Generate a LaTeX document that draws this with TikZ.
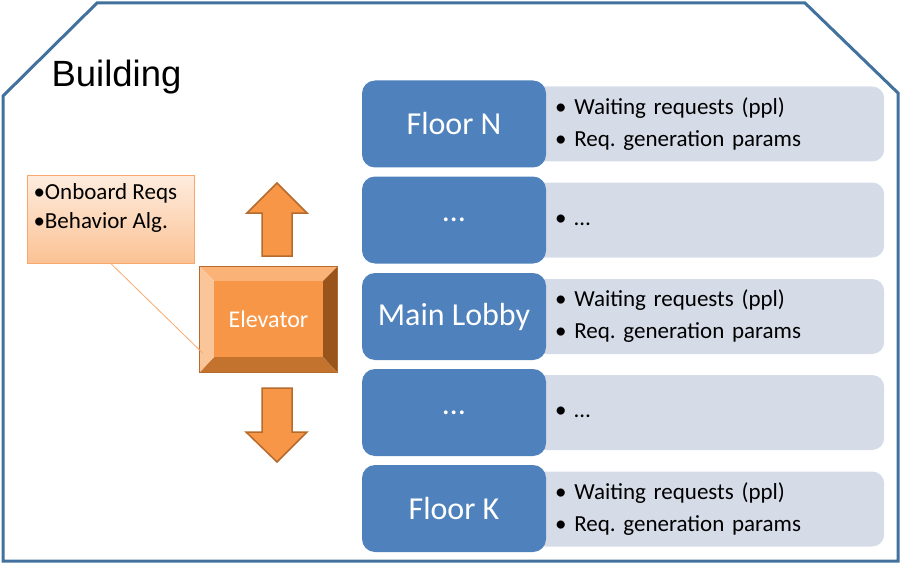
\documentclass[tikz,border=0pt]{standalone}
\usepackage{fontspec}
\setmainfont{Carlito}
\newfontfamily\arialfont{Liberation Sans}
\usetikzlibrary{positioning,calc,shadings}
\frenchspacing

\definecolor{wallblue}{RGB}{65,113,156}
\definecolor{floorblue}{RGB}{79,129,189}
\definecolor{infogray}{RGB}{213,220,232}
\definecolor{elevorange}{RGB}{247,150,70}
\definecolor{elevline}{RGB}{182,106,43}
\definecolor{beveltop}{RGB}{250,178,118}
\definecolor{bevelleft}{RGB}{251,197,154}
\definecolor{bevelright}{RGB}{152,84,27}
\definecolor{bevelbottom}{RGB}{196,115,47}
\definecolor{notelight}{RGB}{254,236,222}
\definecolor{notedark}{RGB}{251,194,148}
\definecolor{noteline}{RGB}{248,168,108}

\tikzset{
  floorbox/.style={fill=floorblue, rounded corners=13pt, minimum width=184pt,
    minimum height=87pt, text=white, font=\fontsize{32}{36}\selectfont},
  infobox/.style={fill=infogray, rounded corners=12pt, anchor=west,
    minimum width=354pt, minimum height=75pt, text width=304pt, inner xsep=25pt,
    align=left, font=\fontsize{23}{32}\selectfont},
  arrowshape/.style={fill=elevorange, draw=elevline, line width=1.5pt, line join=miter},
}

\begin{document}
\begin{tikzpicture}[x=1pt,y=-1pt]

\useasboundingbox (0,0) rectangle (901,564);

%Building outline
\draw[wallblue, line width=3pt] (3,96) -- (97,3) -- (805,3) -- (898,93) -- (898,561) -- (3,561) -- cycle;
\node[anchor=west, font=\arialfont\fontsize{36.5}{40}\selectfont] (title) at (48,77) {Building};

%Floor information
\node[infobox] (infoN) at (530,124) {• Waiting requests (ppl)\\• Req. generation params};
\node[infobox] (infoA) at (530,220) {• …};
\node[infobox] (infoL) at (530,316.5) {• Waiting requests (ppl)\\• Req. generation params};
\node[infobox] (infoB) at (530,412.5) {• …};
\node[infobox] (infoK) at (530,509) {• Waiting requests (ppl)\\• Req. generation params};

%Floors
\node[floorbox] (floorN) at (454,124) {Floor N};
\node[floorbox] (floorA) at (454,220) {…};
\node[floorbox] (lobby)  at (454,316.5) {Main Lobby};
\node[floorbox] (floorB) at (454,412.5) {…};
\node[floorbox] (floorK) at (454,508.5) {Floor K};

%Elevator with bevel
\node[minimum width=137pt, minimum height=105pt, inner sep=0pt] (elev) at (268.5,319.5) {};
\coordinate (ia) at ($(elev.north west)+(14,14)$);
\coordinate (ib) at ($(elev.north east)+(-14,14)$);
\coordinate (ic) at ($(elev.south east)+(-14,-15)$);
\coordinate (id) at ($(elev.south west)+(14,-15)$);
\fill[beveltop] (elev.north west) -- (elev.north east) -- (ib) -- (ia) -- cycle;
\fill[bevelright] (elev.north east) -- (elev.south east) -- (ic) -- (ib) -- cycle;
\fill[bevelbottom] (elev.south east) -- (elev.south west) -- (id) -- (ic) -- cycle;
\fill[bevelleft] (elev.south west) -- (elev.north west) -- (ia) -- (id) -- cycle;
\fill[elevorange] (ia) rectangle (ic);
\draw[elevline, line width=1pt] (elev.north west) rectangle (elev.south east);
\node[text=white, font=\fontsize{24}{28}\selectfont] (elevlabel) at (elev.center) {Elevator};

%Up and down arrows
\draw[arrowshape] (262,256) -- (262,213) -- (247,213) -- (277,183) -- (307,213) -- (292,213) -- (292,256) -- cycle;
\draw[arrowshape] (262,388) -- (262,432) -- (246,432) -- (277,462) -- (307,432) -- (292,432) -- (292,388) -- cycle;

%Elevator notes
\node[draw=noteline, top color=notelight, bottom color=notedark, minimum width=167pt,
  minimum height=88pt, anchor=north west, inner sep=0pt] (note) at (27,175) {};
\node[anchor=north west, align=left, font=\fontsize{23}{29}\selectfont] (notetext) at (30,180) {•Onboard Reqs\\•Behavior Alg.};
\coordinate (notetip) at ($(elev.south west)+(3,-19)$);
\draw[noteline, line width=0.8pt] (note.south) -- (notetip);

\end{tikzpicture}
\end{document}
